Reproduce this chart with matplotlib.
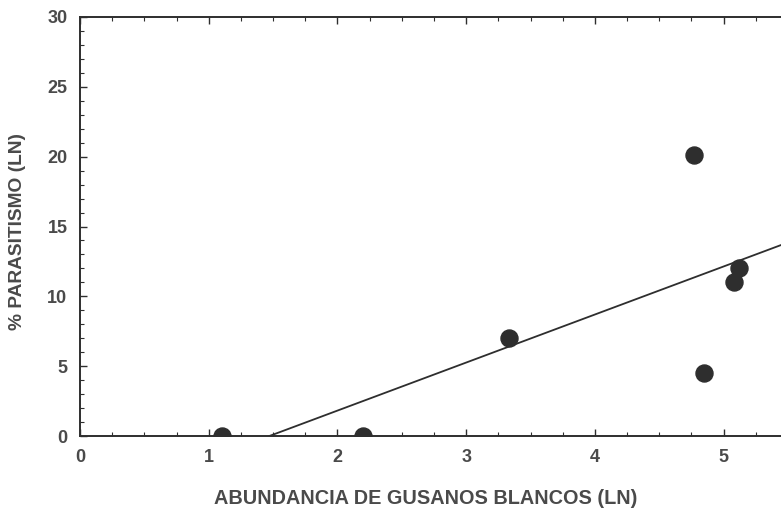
import matplotlib as mpl
mpl.use("Agg")
import matplotlib.pyplot as plt
from matplotlib.ticker import MultipleLocator
import numpy as np

# data
abundancia = [1.10, 2.20, 3.33, 4.77, 4.85, 5.08, 5.12]
parasitismo = [0.0, 0.0, 7.0, 20.1, 4.5, 11.0, 12.0]
fit_intercept = -5.06
fit_slope = 3.44
x_ticks = [0, 1, 2, 3, 4, 5]
y_ticks = [0, 5, 10, 15, 20, 25, 30]

ink = "#2e2e2e"
txt = "#4a4a4a"
plt.rcParams['font.family'] = ['Liberation Sans', 'DejaVu Sans']

fig = plt.figure(figsize=(7.81, 5.12), dpi=100)
ax = fig.add_axes([0.1024, 0.1484, 0.989, 0.8184])

fx = np.array([-fit_intercept / fit_slope, 6.0])
ax.plot(fx, fit_intercept + fit_slope * fx, color=ink, lw=1.3, zorder=2)
ax.scatter(abundancia, parasitismo, s=150, color=ink, zorder=3, clip_on=True)

ax.set_xlim(0, 6)
ax.set_ylim(0, 30)
ax.set_xticks(x_ticks)
ax.set_yticks(y_ticks)
ax.xaxis.set_minor_locator(MultipleLocator(0.25))
ax.yaxis.set_minor_locator(MultipleLocator(1))
ax.tick_params(which="both", direction="in", top=True, right=True, color=ink,
               labelsize=13, labelcolor=txt)
ax.tick_params(which="major", length=5, width=1)
ax.tick_params(which="minor", length=3, width=0.8)
ax.tick_params(axis="x", pad=9)
ax.tick_params(axis="y", pad=9)
for lab in ax.get_xticklabels() + ax.get_yticklabels():
    lab.set_fontweight("bold")
for s in ax.spines.values():
    s.set_color(ink)
    s.set_linewidth(1.4)

ax.set_xlabel("ABUNDANCIA DE GUSANOS BLANCOS (LN)", fontsize=14.3, fontweight="bold",
              color=txt)
ax.xaxis.set_label_coords((426 - 80) / 772, -0.126)
fig.text(18 / 781, 1 - 231 / 512, "% PARASITISMO (LN)", rotation=90, fontsize=13.8,
         fontweight="bold", color=txt, ha="center", va="center")

fig.savefig("out.png", dpi=100)
